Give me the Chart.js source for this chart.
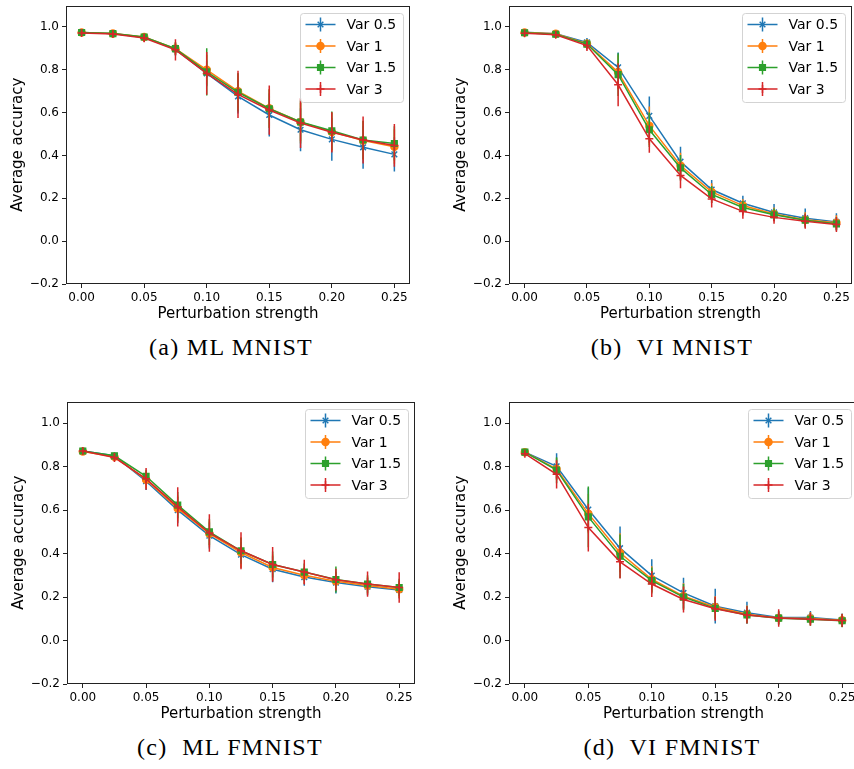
<!DOCTYPE html>
<html>
<head>
<meta charset="utf-8">
<script src="https://cdn.jsdelivr.net/npm/chart.js@4.4.0/dist/chart.umd.min.js"></script>
<style>
  html, body { margin: 0; padding: 0; background: #fff; }
  body { width: 854px; height: 769px; position: relative; overflow: hidden; }
  canvas { position: absolute; }
  .caption {
    position: absolute; width: 400px; margin-left: -200px; text-align: center;
    font-family: "Liberation Serif", serif; font-size: 24px; letter-spacing: 1.3px;
    line-height: 30px; white-space: pre; color: #000;
  }
</style>
</head>
<body>
<canvas id="mlMnist"></canvas>
<canvas id="viMnist"></canvas>
<canvas id="mlFmnist"></canvas>
<canvas id="viFmnist"></canvas>
<div class="caption" style="left:231px; top:332px">(a) ML MNIST</div>
<div class="caption" style="left:672px; top:332px">(b)  VI MNIST</div>
<div class="caption" style="left:230px; top:732px">(c)  ML FMNIST</div>
<div class="caption" style="left:672px; top:732px">(d)  VI FMNIST</div>
<script>
const strengths = [0, 0.025, 0.05, 0.075, 0.1, 0.125, 0.15, 0.175, 0.2, 0.225, 0.25];
const seriesNames = ['Var 0.5', 'Var 1', 'Var 1.5', 'Var 3'];
const xTicks = [0, 0.05, 0.1, 0.15, 0.2, 0.25];
const yTicks = [-0.2, 0, 0.2, 0.4, 0.6, 0.8, 1.0];

// mean accuracy per variance setting, one row per series
const mlMnistMean = [
  [0.974, 0.969, 0.951, 0.895, 0.783, 0.676, 0.589, 0.520, 0.475, 0.438, 0.405],
  [0.974, 0.969, 0.953, 0.899, 0.800, 0.700, 0.620, 0.556, 0.510, 0.470, 0.441],
  [0.974, 0.969, 0.953, 0.899, 0.790, 0.695, 0.618, 0.556, 0.515, 0.472, 0.456],
  [0.972, 0.967, 0.948, 0.893, 0.783, 0.685, 0.612, 0.551, 0.508, 0.472, 0.447]
];
const mlMnistErr = [
  [0.01, 0.01, 0.015, 0.03, 0.06, 0.08, 0.10, 0.10, 0.10, 0.10, 0.08],
  [0.01, 0.01, 0.015, 0.03, 0.07, 0.08, 0.09, 0.09, 0.09, 0.09, 0.08],
  [0.01, 0.01, 0.015, 0.03, 0.11, 0.09, 0.09, 0.10, 0.09, 0.09, 0.08],
  [0.01, 0.012, 0.02, 0.05, 0.10, 0.11, 0.115, 0.116, 0.094, 0.11, 0.10]
];

const viMnistMean = [
  [0.975, 0.968, 0.928, 0.811, 0.585, 0.371, 0.241, 0.177, 0.134, 0.107, 0.090],
  [0.974, 0.968, 0.922, 0.788, 0.539, 0.353, 0.230, 0.166, 0.127, 0.100, 0.086],
  [0.973, 0.966, 0.920, 0.777, 0.520, 0.342, 0.218, 0.157, 0.123, 0.098, 0.081],
  [0.970, 0.963, 0.913, 0.730, 0.478, 0.307, 0.197, 0.139, 0.111, 0.093, 0.078]
];
const viMnistErr = [
  [0.01, 0.01, 0.02, 0.07, 0.09, 0.07, 0.045, 0.035, 0.04, 0.045, 0.04],
  [0.01, 0.01, 0.02, 0.08, 0.09, 0.06, 0.04, 0.03, 0.03, 0.035, 0.035],
  [0.01, 0.01, 0.02, 0.10, 0.08, 0.06, 0.04, 0.03, 0.03, 0.03, 0.03],
  [0.01, 0.012, 0.025, 0.10, 0.065, 0.06, 0.04, 0.035, 0.03, 0.035, 0.035]
];

const mlFmnistMean = [
  [0.872, 0.850, 0.733, 0.600, 0.483, 0.395, 0.328, 0.292, 0.267, 0.248, 0.233],
  [0.870, 0.846, 0.740, 0.608, 0.492, 0.405, 0.336, 0.300, 0.273, 0.253, 0.236],
  [0.872, 0.850, 0.756, 0.623, 0.500, 0.413, 0.350, 0.315, 0.281, 0.260, 0.244],
  [0.872, 0.842, 0.744, 0.615, 0.495, 0.413, 0.350, 0.315, 0.280, 0.260, 0.244]
];
const mlFmnistErr = [
  [0.01, 0.015, 0.04, 0.06, 0.06, 0.06, 0.06, 0.04, 0.05, 0.04, 0.04],
  [0.01, 0.015, 0.04, 0.06, 0.06, 0.07, 0.06, 0.04, 0.04, 0.04, 0.04],
  [0.01, 0.015, 0.03, 0.06, 0.06, 0.06, 0.06, 0.04, 0.06, 0.04, 0.04],
  [0.01, 0.02, 0.05, 0.09, 0.086, 0.085, 0.08, 0.057, 0.05, 0.058, 0.07]
];

const viFmnistMean = [
  [0.867, 0.802, 0.603, 0.425, 0.299, 0.219, 0.158, 0.128, 0.106, 0.106, 0.094],
  [0.867, 0.789, 0.584, 0.404, 0.282, 0.204, 0.154, 0.121, 0.104, 0.101, 0.093],
  [0.867, 0.784, 0.569, 0.388, 0.276, 0.200, 0.148, 0.118, 0.103, 0.098, 0.091],
  [0.860, 0.765, 0.520, 0.362, 0.260, 0.189, 0.146, 0.118, 0.104, 0.098, 0.092]
];
const viFmnistErr = [
  [0.01, 0.06, 0.10, 0.10, 0.075, 0.07, 0.08, 0.05, 0.03, 0.03, 0.03],
  [0.01, 0.05, 0.09, 0.09, 0.06, 0.06, 0.05, 0.04, 0.03, 0.03, 0.03],
  [0.01, 0.06, 0.14, 0.10, 0.06, 0.06, 0.05, 0.04, 0.03, 0.03, 0.03],
  [0.01, 0.065, 0.11, 0.077, 0.06, 0.06, 0.055, 0.04, 0.04, 0.03, 0.03]
];

const colors = ['#1f77b4', '#ff7f0e', '#2ca02c', '#d62728'];
const markers = ['crossRot', 'circle', 'rect', 'cross'];
const markerSizes = [4, 3.5, 4, 4];

Chart.defaults.font.family = "'DejaVu Sans', sans-serif";
Chart.defaults.color = '#000';

function drawMarker(ctx, i, x, y) {
  ctx.fillStyle = colors[i];
  ctx.strokeStyle = colors[i];
  ctx.lineWidth = 1.5;
  Chart.helpers.drawPoint(ctx, {pointStyle: markers[i], radius: markerSizes[i], borderWidth: 1.5, rotation: 0}, x, y);
}

// vertical error bars, drawn just under each dataset's own line
const errorBars = {
  id: 'errorBars',
  beforeDatasetDraw(chart, args) {
    const ds = chart.data.datasets[args.index];
    const yScale = chart.scales.y;
    const ctx = chart.ctx;
    ctx.save();
    ctx.strokeStyle = ds.borderColor;
    ctx.lineWidth = 1.5;
    ctx.beginPath();
    args.meta.data.forEach((pt, j) => {
      const v = ds.data[j].y, e = ds.errors[j];
      ctx.moveTo(pt.x, yScale.getPixelForValue(v + e));
      ctx.lineTo(pt.x, yScale.getPixelForValue(v - e));
    });
    ctx.stroke();
    ctx.restore();
  }
};

// axes box plus a matplotlib-style legend in the upper right corner
const frameAndLegend = {
  id: 'frameAndLegend',
  afterDraw(chart) {
    const ctx = chart.ctx;
    const a = chart.chartArea;
    ctx.save();
    ctx.strokeStyle = '#222';
    ctx.lineWidth = 1;
    const l = Math.round(a.left) + 0.5, t = Math.round(a.top) + 0.5;
    const r = Math.round(a.right) - 0.5, b = Math.round(a.bottom) - 0.5;
    ctx.strokeRect(l, t, r - l, b - t);

    const w = 103, h = 89;
    const bx = Math.round(a.right) - 7 - w + 0.5, by = Math.round(a.top) + 7 + 0.5;
    ctx.beginPath();
    ctx.roundRect(bx, by, w, h, 3);
    ctx.fillStyle = 'rgba(255,255,255,0.8)';
    ctx.fill();
    ctx.strokeStyle = '#d3d3d3';
    ctx.stroke();

    chart.data.datasets.forEach((ds, i) => {
      const cy = by + 11 + i * 21.5;
      const mx = bx + 20;
      ctx.strokeStyle = colors[i];
      ctx.lineWidth = 1.5;
      ctx.beginPath();
      ctx.moveTo(bx + 5, cy);
      ctx.lineTo(bx + 35, cy);
      ctx.moveTo(mx, cy - 7);
      ctx.lineTo(mx, cy + 7);
      ctx.stroke();
      drawMarker(ctx, i, mx, cy);
      ctx.fillStyle = '#000';
      ctx.font = "14px 'DejaVu Sans', sans-serif";
      ctx.textBaseline = 'middle';
      ctx.textAlign = 'left';
      ctx.fillText(ds.label, bx + 46, cy + 1);
    });
    ctx.restore();
  }
};

function makePanel(id, means, errs, box) {
  const canvas = document.getElementById(id);
  const yAxisWidth = 66, xAxisHeight = 39;
  canvas.width = box.right - box.left + yAxisWidth + 20;
  canvas.height = box.bottom - box.top + 1 + xAxisHeight + 8;
  canvas.style.left = (box.left - yAxisWidth) + 'px';
  canvas.style.top = (box.top - 1) + 'px';

  const datasets = seriesNames.map((name, i) => ({
    label: name,
    data: strengths.map((x, j) => ({x: x, y: means[i][j]})),
    errors: errs[i],
    borderColor: colors[i],
    backgroundColor: colors[i],
    borderWidth: 1.5,
    pointStyle: markers[i],
    pointRadius: markerSizes[i],
    pointBorderWidth: 1.5,
    pointBackgroundColor: colors[i],
    pointBorderColor: colors[i],
    tension: 0,
    order: seriesNames.length - 1 - i
  }));

  const tickGrid = {display: true, drawOnChartArea: false, drawTicks: true, tickLength: 4, color: '#222', lineWidth: 1};

  return new Chart(canvas.getContext('2d'), {
    type: 'line',
    data: {datasets: datasets},
    options: {
      responsive: false,
      animation: false,
      events: [],
      layout: {padding: {top: 1, left: 0, right: 20, bottom: 8}},
      plugins: {legend: {display: false}, tooltip: {enabled: false}},
      scales: {
        x: {
          type: 'linear',
          min: -0.0125,
          max: 0.2625,
          afterBuildTicks: s => { s.ticks = xTicks.map(v => ({value: v})); },
          afterFit: s => { s.height = xAxisHeight; s.paddingLeft = 0; s.paddingRight = 0; },
          ticks: {callback: v => v.toFixed(2), font: {size: 12}, padding: 3, maxRotation: 0, autoSkip: false, color: '#000'},
          grid: tickGrid,
          border: {display: false},
          title: {display: true, text: 'Perturbation strength', font: {size: 15}, padding: 0, color: '#000'}
        },
        y: {
          type: 'linear',
          min: -0.2,
          max: 1.1,
          afterBuildTicks: s => { s.ticks = yTicks.map(v => ({value: v})); },
          afterFit: s => { s.width = yAxisWidth; s.paddingTop = 0; s.paddingBottom = 0; },
          ticks: {
            callback: v => (v < 0 ? '\u2212' + Math.abs(v).toFixed(1) : v.toFixed(1)),
            font: {size: 12}, padding: 3, autoSkip: false, color: '#000'
          },
          grid: tickGrid,
          border: {display: false},
          title: {display: true, text: 'Average accuracy', font: {size: 15}, padding: {top: 9, bottom: 0}, color: '#000'}
        }
      }
    },
    plugins: [errorBars, frameAndLegend]
  });
}

makePanel('mlMnist', mlMnistMean, mlMnistErr, {left: 66, top: 1, right: 410, bottom: 284});
makePanel('viMnist', viMnistMean, viMnistErr, {left: 509, top: 1, right: 852, bottom: 284});
makePanel('mlFmnist', mlFmnistMean, mlFmnistErr, {left: 67, top: 397, right: 415, bottom: 684});
makePanel('viFmnist', viFmnistMean, viFmnistErr, {left: 509, top: 397, right: 858, bottom: 684});
</script>
</body>
</html>
